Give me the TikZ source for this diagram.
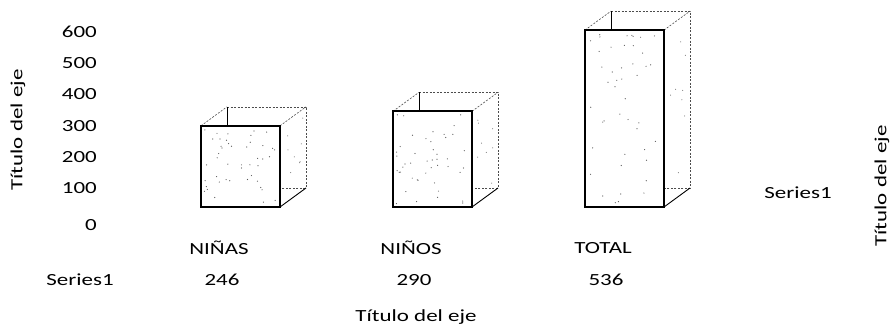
\documentclass[tikz,border=0pt]{standalone}
\usepackage{fontspec}
\setmainfont{Carlito}[FakeStretch=1.35]
\tikzset{
  lbl/.style={font=\fontsize{17}{20}\selectfont, inner sep=0pt},
  frontface/.style={line width=1.6pt, fill=white},
  backedge/.style={line width=0.6pt, dash pattern=on 2pt off 1.5pt, black!70},
}
\begin{document}
\begin{tikzpicture}[x=1pt, y=-1pt]
    \useasboundingbox (0,0) rectangle (890,331);
    % Bar geometry
    \def\base{207}
    \def\unitv{0.33}
    \def\w{79}
    \def\dx{26}
    \def\dy{-19}
    \pgfmathsetseed{11}

    % Value axis
    \foreach \v/\yy in {600/32,500/63,400/94,300/126,200/157,100/188,0/225} {
        \node[lbl, anchor=east] (tick-\v) at (97,\yy) {\v};
    }
    \node[lbl, rotate=90] (ytitle) at (18,130) {Título del eje};

    % Bars as cubes
    \foreach \xl/\val/\cat/\name in {201/246/NIÑAS/ninas, 393/290/NIÑOS/ninos, 585/536/TOTAL/total} {
        \begin{scope}[shift={(\xl,0)}]
            \pgfmathsetmacro{\ytop}{\base-\val*\unitv}
            % hidden and back edges
            \draw[backedge] (\dx,\ytop+\dy) -- (\w+\dx,\ytop+\dy) -- (\w+\dx,\base+\dy) -- (\w,\base+\dy);
            \draw[backedge] (0,\ytop) -- (\dx,\ytop+\dy);
            \draw[backedge] (\w,\ytop) -- (\w+\dx,\ytop+\dy);
            \draw[line width=0.8pt] (\dx,\ytop+\dy) -- (\dx,\ytop);
            \draw[line width=0.9pt] (\w,\base) -- (\w+\dx,\base+\dy);
            % front face with stipple
            \draw[frontface] (0,\base) rectangle (\w,\ytop);
            \foreach \k in {1,...,45} {
                \fill[black!65] ({3+rnd*(\w-6)},{\ytop+3+rnd*(\base-\ytop-6)}) circle (0.6);
            }
            \foreach \k in {1,...,8} {
                \fill[black!65] ({\w+3+rnd*(\dx-6)},{\ytop+\dy+8+rnd*(\base-\ytop-12)}) circle (0.5);
            }
        \end{scope}
        \node[lbl] (cat-\name) at (\xl+18,248) {\cat};
        \node[lbl] (val-\name) at (\xl+21,280) {\val};
    }

    % Data table row, titles and legend
    \node[lbl] (series) at (80,280) {Series1};
    \node[lbl] (xtitle) at (416,317) {Título del eje};
    \node[lbl] (legend) at (798,193) {Series1};
    \node[lbl, rotate=90] (ytitle2) at (882,186) {Título del eje};
\end{tikzpicture}
\end{document}
